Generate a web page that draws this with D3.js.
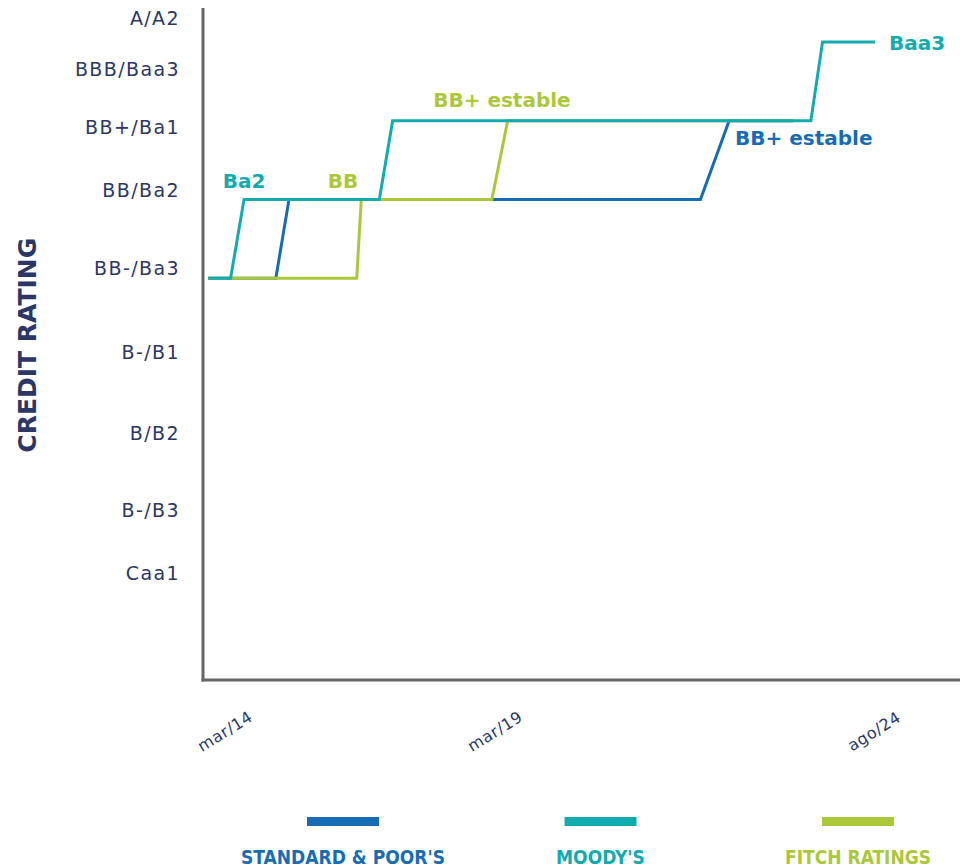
<!DOCTYPE html>
<html>
<head>
<meta charset="utf-8">
<script src="https://cdn.jsdelivr.net/npm/d3@7"></script>
<style>
  html, body { margin: 0; padding: 0; background: #fff; }
  svg { display: block; }
</style>
</head>
<body>
<div id="chart"></div>
<script>
// Rating scale: 0 = BB-/Ba3, 1 = BB/Ba2, 2 = BB+/Ba1, 3 = BBB/Baa3
const ratingLabels = ["A/A2", "BBB/Baa3", "BB+/Ba1", "BB/Ba2", "BB-/Ba3", "B-/B1", "B/B2", "B-/B3", "Caa1"]
const ratingTickLevels = [3.3, 2.65, 1.91, 1.12, 0.13, -0.94, -1.97, -2.95, -3.74]

const xTickDates = ["2014-03", "2019-03", "2024-08"]
const xTickLabels = ["mar/14", "mar/19", "ago/24"]

const seriesNames = ["STANDARD & POOR'S", "MOODY'S", "FITCH RATINGS"]

const spDates = ["2013-11", "2015-02", "2015-05", "2022-02", "2022-07", "2023-06"]
const spLevels = [0, 0, 1, 1, 2, 2]

const moodysDates = ["2013-11", "2014-04", "2014-07", "2017-01", "2017-04", "2023-09", "2023-11", "2024-08"]
const moodysLevels = [0, 0, 1, 1, 2, 2, 3, 3]

const fitchDates = ["2013-11", "2016-08", "2016-09", "2019-02", "2019-05", "2023-06"]
const fitchLevels = [0, 0, 1, 1, 2, 2]

const annotationTexts = ["Ba2", "BB", "BB+ estable", "BB+ estable", "Baa3"]
const annotationSeries = [1, 2, 2, 0, 1]
const annotationDates = ["2014-07", "2016-05", "2019-04", "2022-08", "2024-08"]
const annotationLevels = [1, 1, 2, 2, 3]

const colors = ["#176cb5", "#12abb0", "#abc83b"]
const navy = "#2b3766"

const width = 960
const height = 867
const parse = d3.timeParse("%Y-%m")

const svg = d3.select("#chart").append("svg")
  .attr("width", width)
  .attr("height", height)
  .attr("viewBox", [0, 0, width, height])

// Scales
const x = d3.scaleTime()
  .domain(xTickDates.map(parse))
  .range([226, 496, 875])

const y = d3.scaleLinear()
  .domain([-5.1, 3.43])
  .range([680, 8])

const plotLeft = 203

// Y labels
svg.append("g")
  .selectAll("text")
  .data(ratingLabels)
  .join("text")
  .attr("x", 180)
  .attr("y", (d, i) => y(ratingTickLevels[i]))
  .attr("dy", "0.35em")
  .attr("text-anchor", "end")
  .attr("font-family", "DejaVu Sans, sans-serif")
  .attr("font-size", 19)
  .attr("letter-spacing", 1.4)
  .attr("fill", navy)
  .text(d => d)

// Title
svg.append("text")
  .attr("transform", `translate(36,${y(-0.85)}) rotate(-90)`)
  .attr("text-anchor", "middle")
  .attr("font-family", "DejaVu Sans, sans-serif")
  .attr("font-weight", "bold")
  .attr("font-size", 25)
  .attr("fill", navy)
  .text("CREDIT RATING")

// Series lines (S&P under, Fitch, Moody's on top)
const series = [
  spDates.map((d, i) => ({ date: parse(d), level: spLevels[i] })),
  moodysDates.map((d, i) => ({ date: parse(d), level: moodysLevels[i] })),
  fitchDates.map((d, i) => ({ date: parse(d), level: fitchLevels[i] }))
]

const line = d3.line()
  .x(d => x(d.date))
  .y(d => y(d.level))

const drawOrder = [0, 2, 1]
svg.append("g")
  .selectAll("path")
  .data(drawOrder)
  .join("path")
  .attr("d", i => line(series[i]))
  .attr("fill", "none")
  .attr("stroke", i => colors[i])
  .attr("stroke-width", 3)
  .attr("stroke-linejoin", "miter")

// Axes lines
svg.append("line")
  .attr("x1", plotLeft).attr("x2", plotLeft)
  .attr("y1", y.range()[1]).attr("y2", y.range()[0] + 1.5)
  .attr("stroke", "#666").attr("stroke-width", 3)

svg.append("line")
  .attr("x1", plotLeft - 1.5).attr("x2", width)
  .attr("y1", y.range()[0]).attr("y2", y.range()[0])
  .attr("stroke", "#666").attr("stroke-width", 3)

// X labels
svg.append("g")
  .selectAll("text")
  .data(xTickLabels)
  .join("text")
  .attr("transform", (d, i) => `translate(${x(parse(xTickDates[i])) + 2},${736}) rotate(-32)`)
  .attr("text-anchor", "middle")
  .attr("font-family", "DejaVu Sans, sans-serif")
  .attr("font-size", 16)
  .attr("letter-spacing", 0.6)
  .attr("fill", navy)
  .text(d => d)

// Annotations
const annotationLayout = [
  { anchor: "middle", dx: 0, dy: -11 },
  { anchor: "middle", dx: 0, dy: -11 },
  { anchor: "middle", dx: 0, dy: -14 },
  { anchor: "start", dx: 0, dy: 24 },
  { anchor: "start", dx: 14, dy: 8 }
]

svg.append("g")
  .selectAll("text")
  .data(annotationTexts)
  .join("text")
  .attr("x", (d, i) => x(parse(annotationDates[i])) + annotationLayout[i].dx)
  .attr("y", (d, i) => y(annotationLevels[i]) + annotationLayout[i].dy)
  .attr("text-anchor", (d, i) => annotationLayout[i].anchor)
  .attr("font-family", "DejaVu Sans, sans-serif")
  .attr("font-weight", "bold")
  .attr("font-size", 20)
  .attr("fill", (d, i) => colors[annotationSeries[i]])
  .text(d => d)

// Legend
const legendX = d3.scalePoint()
  .domain(seriesNames)
  .range([343, 858])

const legend = svg.append("g")
  .selectAll("g")
  .data(seriesNames)
  .join("g")
  .attr("transform", d => `translate(${legendX(d)},0)`)

legend.append("rect")
  .attr("x", -36)
  .attr("y", 817)
  .attr("width", 72)
  .attr("height", 9)
  .attr("fill", (d, i) => colors[i])

legend.append("text")
  .attr("y", 864)
  .attr("text-anchor", "middle")
  .attr("font-family", "Liberation Sans Narrow, DejaVu Sans Condensed, sans-serif")
  .attr("font-weight", "bold")
  .attr("font-size", 19)
  .attr("fill", (d, i) => colors[i])
  .text(d => d)
</script>
</body>
</html>
